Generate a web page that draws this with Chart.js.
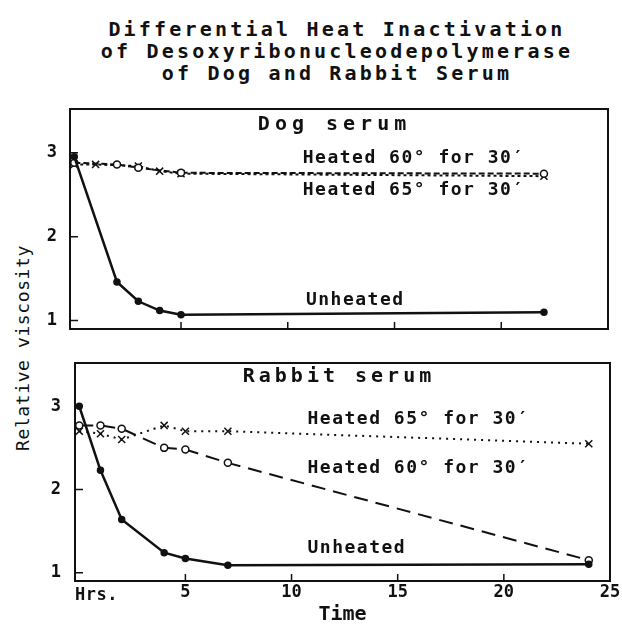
<!DOCTYPE html>
<html>
<head>
<meta charset="utf-8">
<script src="https://cdn.jsdelivr.net/npm/chart.js@4.4.1/dist/chart.umd.min.js"></script>
<style>
  body { margin: 0; background: #fff; }
  #page { position: relative; width: 622px; height: 625px; overflow: hidden; font-family: "DejaVu Sans Mono", monospace; color: #111; }
  #title { position: absolute; top: 18px; left: 26px; width: 622px; text-align: center; font-size: 20px; line-height: 22px; letter-spacing: 3.2px; font-weight: bold; }
  #ylab { position: absolute; left: 22px; top: 348px; transform: translate(-50%, -50%) rotate(-90deg); white-space: nowrap; font-size: 18px; letter-spacing: 0.6px; }
  .box { position: absolute; left: 0; width: 622px; }
</style>
</head>
<body>
<div id="page">
  <div id="title">Differential Heat Inactivation<br>of Desoxyribonucleodepolymerase<br>of Dog and Rabbit Serum</div>
  <div id="ylab">Relative viscosity</div>
  <div class="box" style="top:100px;height:240px"><canvas id="dog"></canvas></div>
  <div class="box" style="top:340px;height:285px"><canvas id="rabbit"></canvas></div>
</div>
<script>
// time in hours, relative viscosity
const dogHoursUnheated = [0, 2, 3, 4, 5, 22];
const dogUnheated      = [2.95, 1.46, 1.23, 1.12, 1.07, 1.1];
const dogHours60       = [0, 2, 3, 5, 22];
const dogHeated60      = [2.88, 2.86, 2.82, 2.76, 2.75];
const dogHours65       = [0, 1, 3, 4, 5, 22];
const dogHeated65      = [2.86, 2.86, 2.84, 2.78, 2.75, 2.72];

const rabbitHours      = [0, 1, 2, 4, 5, 7, 24];
const rabbitUnheated   = [3.0, 2.23, 1.64, 1.24, 1.17, 1.09, 1.1];
const rabbitHeated60   = [2.77, 2.77, 2.73, 2.5, 2.48, 2.32, 1.15];
const rabbitHeated65   = [2.7, 2.67, 2.6, 2.77, 2.7, 2.7, 2.55];

const yTicks = [1, 2, 3];
const xTicks = [5, 10, 15, 20, 25];

const ink = '#111';
const font = '"DejaVu Sans Mono", monospace';

const pts = (xs, ys) => xs.map((x, i) => ({ x: x, y: ys[i] }));

function unheated(data) {
  return { data, borderColor: ink, backgroundColor: ink, borderWidth: 2.5,
    pointRadius: 2.5, pointStyle: 'circle', tension: 0 };
}
function heated60(data, dash) {
  return { data, borderColor: ink, backgroundColor: '#fff', borderWidth: 2, borderDash: dash,
    pointRadius: 3.5, pointBorderWidth: 1.5, pointStyle: 'circle', tension: 0 };
}
function heated65(data, dash) {
  return { data, borderColor: ink, backgroundColor: ink, borderWidth: 2, borderDash: dash,
    pointRadius: 5, pointBorderWidth: 1.5, pointStyle: 'crossRot', tension: 0 };
}

// frame, inner tick marks and the hand-lettered notes
function framePlugin(notes) {
  return {
    id: 'frame',
    afterDraw(chart) {
      const { ctx, chartArea: a, scales } = chart;
      const x = scales.x, y = scales.y;
      ctx.save();
      ctx.strokeStyle = ink;
      ctx.lineWidth = 2;
      ctx.strokeRect(a.left, a.top, a.right - a.left, a.bottom - a.top);
      ctx.lineWidth = 1.5;
      ctx.beginPath();
      yTicks.forEach(v => {
        const py = y.getPixelForValue(v);
        ctx.moveTo(a.left, py); ctx.lineTo(a.left + 8, py);
      });
      xTicks.filter(v => v < 25).forEach(v => {
        const px = x.getPixelForValue(v);
        ctx.moveTo(px, a.bottom); ctx.lineTo(px, a.bottom - 7);
      });
      ctx.stroke();
      ctx.fillStyle = ink;
      ctx.textBaseline = 'middle';
      ctx.textAlign = 'left';
      notes.forEach(n => {
        ctx.font = 'bold ' + n.size + 'px ' + font;
        ctx.letterSpacing = n.spacing + 'px';
        ctx.fillText(n.text, x.getPixelForValue(n.x), y.getPixelForValue(n.y));
      });
      ctx.restore();
    }
  };
}

function baseOptions(yGap, showX) {
  return {
    responsive: true,
    maintainAspectRatio: false,
    animation: false,
    plugins: { legend: { display: false }, tooltip: { enabled: false } },
    scales: {
      x: {
        type: 'linear', min: -0.2, max: 25,
        display: showX,
        grid: { display: false, drawTicks: false },
        border: { display: false },
        afterBuildTicks: s => { s.ticks = xTicks.map(v => ({ value: v })); },
        afterFit: s => { s.height = showX ? 44 : 0; },
        ticks: { color: ink, font: { family: font, size: 17, weight: 'bold' }, padding: 1, maxRotation: 0 },
        title: { display: true, text: 'Time', color: ink, padding: 0,
          font: { family: font, size: 20, lineHeight: 1, weight: 'bold' } }
      },
      y: {
        min: 0.9, max: 3.52,
        grid: { display: false, drawTicks: true, tickLength: yGap },
        border: { display: false },
        afterBuildTicks: s => { s.ticks = yTicks.map(v => ({ value: v })); },
        afterFit: s => { s.width = 40; },
        ticks: { color: ink, font: { family: font, size: 17, weight: 'bold', lineHeight: 1 }, padding: 0 }
      }
    }
  };
}

const dogOpts = baseOptions(13, false);
dogOpts.layout = { padding: { left: 30, right: 14, top: 9, bottom: 11 } };

new Chart(document.getElementById('dog'), {
  type: 'line',
  data: { datasets: [
    unheated(pts(dogHoursUnheated, dogUnheated)),
    heated60(pts(dogHours60, dogHeated60), [6, 3]),
    heated65(pts(dogHours65, dogHeated65), [3, 3])
  ] },
  options: dogOpts,
  plugins: [framePlugin([
    { text: 'Dog serum', x: 8.6, y: 3.33, size: 20, spacing: 5 },
    { text: 'Heated 60° for 30\u2032', x: 10.7, y: 2.93, size: 18, spacing: 1.5 },
    { text: 'Heated 65° for 30\u2032', x: 10.7, y: 2.55, size: 18, spacing: 1.5 },
    { text: 'Unheated', x: 10.85, y: 1.24, size: 18, spacing: 1.5 }
  ])]
});

const rabbitOpts = baseOptions(14, true);
rabbitOpts.layout = { padding: { left: 35, right: 12, top: 23, bottom: 0 } };

new Chart(document.getElementById('rabbit'), {
  type: 'line',
  data: { datasets: [
    unheated(pts(rabbitHours, rabbitUnheated)),
    heated60(pts(rabbitHours, rabbitHeated60), [14, 8]),
    heated65(pts(rabbitHours, rabbitHeated65), [2, 5])
  ] },
  options: rabbitOpts,
  plugins: [framePlugin([
    { text: 'Rabbit serum', x: 7.7, y: 3.35, size: 20, spacing: 4 },
    { text: 'Heated 65° for 30\u2032', x: 10.75, y: 2.84, size: 18, spacing: 1.5 },
    { text: 'Heated 60° for 30\u2032', x: 10.75, y: 2.25, size: 18, spacing: 1.5 },
    { text: 'Unheated', x: 10.75, y: 1.29, size: 18, spacing: 1.5 },
    { text: 'Hrs.', x: -0.2, y: 0.72, size: 17, spacing: 0.5 }
  ])]
});
</script>
</body>
</html>
